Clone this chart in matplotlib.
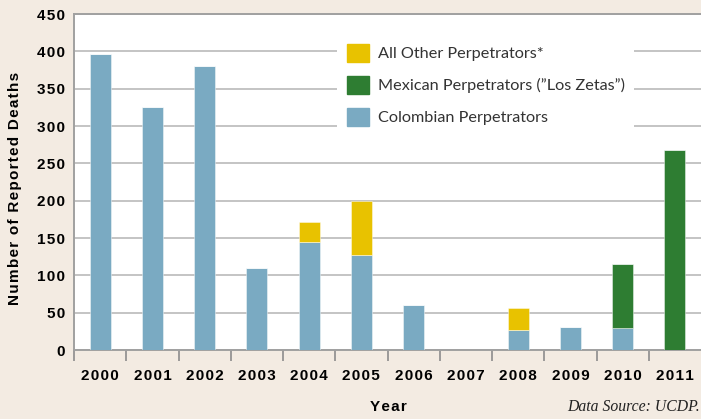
import matplotlib
matplotlib.use("Agg")
import matplotlib.pyplot as plt
from matplotlib.patches import Patch
import numpy as np

years = ['2000', '2001', '2002', '2003', '2004', '2005', '2006', '2007', '2008', '2009', '2010', '2011']
colombian = [397, 325, 381, 110, 144, 127, 60, 0, 27, 31, 29, 0]
mexican = [0, 0, 0, 0, 0, 0, 0, 0, 0, 0, 86, 268]
other = [0, 0, 0, 0, 28, 73, 0, 0, 29, 0, 0, 0]

c_col = '#7aaac2'
c_mex = '#2e7d32'
c_oth = '#e8c200'
bg = '#f3ebe2'
SANS = ['Liberation Sans', 'DejaVu Sans']


def track(s):
    return '\u200a'.join(s)


fig = plt.figure(figsize=(7.01, 4.19), dpi=100, facecolor=bg)
ax = fig.add_axes([74/701, 1-350/419, 1-74/701, (350-14)/419])
ax.set_facecolor('white')

x = np.arange(len(years))
w = 0.4
col = np.array(colombian)
mex = np.array(mexican)
oth = np.array(other)
ekw = dict(edgecolor=(1, 1, 1, 0.5), linewidth=0.6, zorder=3)
ax.bar(x, col, w, color=c_col, **ekw)
ax.bar(x, mex, w, bottom=col, color=c_mex, **ekw)
ax.bar(x, oth, w, bottom=col+mex, color=c_oth, **ekw)

ax.set_xlim(-0.5, 11.5)
ax.set_ylim(0, 450)
yt = np.arange(0, 451, 50)
ax.set_yticks(yt)
ax.set_yticklabels([track(str(v)) for v in yt], fontweight='bold', fontsize=11, family=SANS)
ax.yaxis.grid(True, color='#c4c4c4', linewidth=1.4, zorder=0)
ax.set_axisbelow(True)

ax.set_xticks(np.arange(-0.5, 11.0, 1.0))
ax.set_xticklabels([])
ax.set_xticks(x, minor=True)
ax.set_xticklabels([track(y) for y in years], minor=True, fontweight='bold', fontsize=11,
                   family=SANS)
ax.tick_params(axis='x', which='major', length=8, width=1.2, color='#8c8c8c', direction='out')
ax.tick_params(axis='x', which='minor', length=0, pad=14)
ax.tick_params(axis='y', length=0, pad=6.5)

for s in ['right']:
    ax.spines[s].set_visible(False)
for s in ['left', 'bottom', 'top']:
    ax.spines[s].set_color('#a0a0a0')
    ax.spines[s].set_linewidth(1.4)

fig.text(15/701, 1-188/419, track('Number of Reported Deaths'), rotation=90, ha='center', va='center',
         fontsize=11, fontweight='bold', family=SANS)
fig.text(388/701, 1-407/419, track('Year'), ha='center', va='center',
         fontsize=11, fontweight='bold', family=SANS)
fig.text(700/701, 1-407/419, 'Data Source: UCDP.', ha='right', va='center',
         fontsize=11.3, style='italic', family='Liberation Serif', color='#222222')

handles = [Patch(color=c_oth), Patch(color=c_mex), Patch(color=c_col)]
labels = ['All Other Perpetrators*', 'Mexican Perpetrators (\u201dLos Zetas\u201d)', 'Colombian Perpetrators']
leg = fig.legend(handles, labels, loc='upper left', bbox_to_anchor=(337/701, 1-34/419),
                 frameon=True, facecolor='white', edgecolor='none', framealpha=1,
                 fancybox=False, prop={'family': 'Lato', 'size': 11.7},
                 handlelength=1.35, handleheight=1.35, handletextpad=0.55,
                 labelspacing=0.85, borderpad=0.6, borderaxespad=0)
for t in leg.get_texts():
    t.set_color('#333333')

fig.savefig('out.png', dpi=100, facecolor=bg)
